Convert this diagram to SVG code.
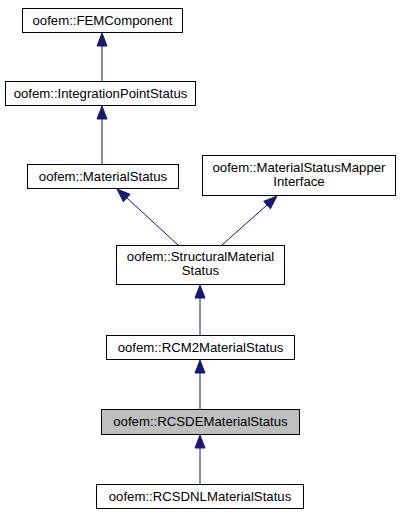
<svg xmlns="http://www.w3.org/2000/svg" width="401" height="515" viewBox="0 0 401 515">
<style>
.box{fill:#ffffff;stroke:#000000;stroke-width:1}
.cur{fill:#bfbfbf;stroke:#000000;stroke-width:1}
text{font-family:"Liberation Sans",Arial,Helvetica,sans-serif;font-size:13.2px;fill:#000000;text-anchor:middle}
.edge{stroke:#191970;stroke-width:1;fill:none}
.head{fill:#191970;stroke:#191970;stroke-width:1}
</style>
<rect width="401" height="515" fill="#ffffff"/>
<g id="connectors">
  <!-- FEMComponent <- IntegrationPointStatus -->
  <line class="edge" x1="102" y1="46" x2="102" y2="81"/>
  <polygon class="head" points="102,33 97,46 107,46"/>
  <!-- IntegrationPointStatus <- MaterialStatus -->
  <line class="edge" x1="102" y1="119" x2="102" y2="164"/>
  <polygon class="head" points="102,106 97,119 107,119"/>
  <!-- MaterialStatus <- StructuralMaterialStatus -->
  <line class="edge" x1="127" y1="198" x2="178" y2="245"/>
  <polygon class="head" points="117,189 123.3,201.7 130.1,194.3"/>
  <!-- MaterialStatusMapperInterface <- StructuralMaterialStatus -->
  <line class="edge" x1="267" y1="205" x2="222" y2="245"/>
  <polygon class="head" points="277,196 263.7,201.3 270.4,208.8"/>
  <!-- StructuralMaterialStatus <- RCM2MaterialStatus -->
  <line class="edge" x1="200" y1="298" x2="200" y2="335"/>
  <polygon class="head" points="200,285 195,298 205,298"/>
  <!-- RCM2MaterialStatus <- RCSDEMaterialStatus -->
  <line class="edge" x1="200" y1="373" x2="200" y2="409"/>
  <polygon class="head" points="200,360 195,373 205,373"/>
  <!-- RCSDEMaterialStatus <- RCSDNLMaterialStatus -->
  <line class="edge" x1="200" y1="448" x2="200" y2="484"/>
  <polygon class="head" points="200,435 195,448 205,448"/>
</g>
<g id="FEMComponent">
  <rect class="box" x="22.5" y="8.5" width="160" height="24"/>
  <text x="102.5" y="25">oofem::FEMComponent</text>
</g>
<g id="IntegrationPointStatus">
  <rect class="box" x="5.5" y="81.5" width="190" height="24"/>
  <text x="100.5" y="98">oofem::IntegrationPointStatus</text>
</g>
<g id="MaterialStatus">
  <rect class="box" x="27.5" y="164.5" width="151" height="24"/>
  <text x="103" y="181">oofem::MaterialStatus</text>
</g>
<g id="MaterialStatusMapperInterface">
  <rect class="box" x="202.5" y="155.5" width="193" height="40"/>
  <text x="299" y="172">oofem::MaterialStatusMapper</text>
  <text x="299" y="186">Interface</text>
</g>
<g id="StructuralMaterialStatus">
  <rect class="box" x="116.5" y="245.5" width="168" height="39"/>
  <text x="200.5" y="261">oofem::StructuralMaterial</text>
  <text x="200.5" y="275">Status</text>
</g>
<g id="RCM2MaterialStatus">
  <rect class="box" x="106.5" y="335.5" width="188" height="24"/>
  <text x="200.5" y="352">oofem::RCM2MaterialStatus</text>
</g>
<g id="RCSDEMaterialStatus">
  <rect class="cur" x="101.5" y="409.5" width="198" height="25"/>
  <text x="200.5" y="426">oofem::RCSDEMaterialStatus</text>
</g>
<g id="RCSDNLMaterialStatus">
  <rect class="box" x="96.5" y="484.5" width="207" height="24"/>
  <text x="200" y="501">oofem::RCSDNLMaterialStatus</text>
</g>
</svg>
